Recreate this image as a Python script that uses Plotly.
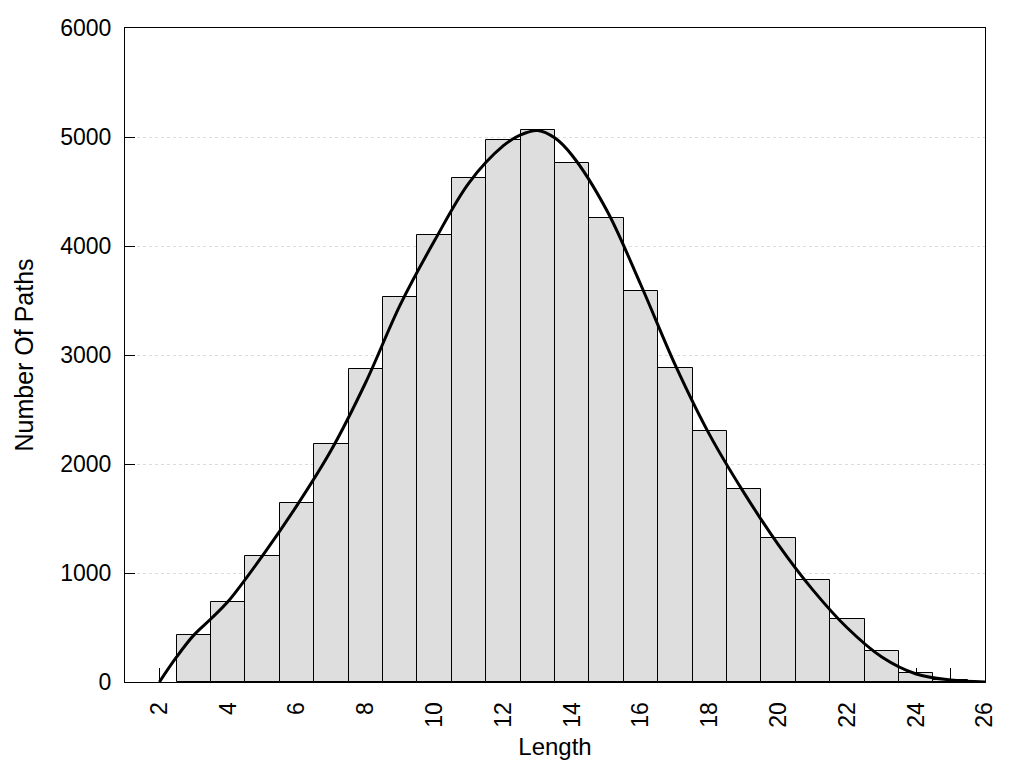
import plotly.graph_objects as go

# Histogram bars
bar_x = [3, 4, 5, 6, 7, 8, 9, 10, 11, 12, 13, 14, 15, 16, 17, 18, 19, 20, 21, 22, 23, 24, 25]
bar_y = [430, 735, 1155, 1640, 2180, 2875, 3530, 4100, 4620, 4968, 5068, 4766, 4255, 3585, 2880, 2300, 1770, 1320, 935, 575, 284, 80, 15]

# Smoothed curve
curve_x = [2, 2.5, 3, 3.5, 4, 5, 6, 7, 8, 9, 10, 11, 12, 12.5, 13, 13.5, 14, 15, 16, 17, 18, 19, 20, 21, 22, 23, 24, 25, 26]
curve_y = [0, 230, 430, 580, 740, 1160, 1620, 2130, 2750, 3460, 4050, 4580, 4920, 5020, 5060, 4990, 4830, 4330, 3640, 2905, 2265, 1733, 1256, 843, 495, 229, 73, 18, 0]

x_tickvals = list(range(2, 27))
x_ticktext = [str(v) if v % 2 == 0 else "" for v in x_tickvals]
y_tickvals = [0, 1000, 2000, 3000, 4000, 5000, 6000]

fig = go.Figure()
fig.add_trace(go.Bar(
    x=bar_x, y=bar_y, width=1,
    marker=dict(color="#dedede", line=dict(color="black", width=1)),
    showlegend=False,
))
fig.add_trace(go.Scatter(
    x=curve_x, y=curve_y, mode="lines",
    line=dict(color="black", width=3, shape="spline", smoothing=1.0),
    showlegend=False,
))

tick_font = dict(family="Liberation Sans, Arial, sans-serif", size=23, color="black")
title_font = dict(family="Liberation Sans, Arial, sans-serif", size=24, color="black")

fig.update_layout(
    width=1008, height=752,
    margin=dict(l=117, r=31, t=20, b=78, autoexpand=False),
    paper_bgcolor="white", plot_bgcolor="white",
    font=tick_font,
    bargap=0,
)
fig.update_xaxes(
    range=[1, 26], automargin=False,
    tickvals=x_tickvals, ticktext=x_ticktext,
    tickangle=-90, tickfont=tick_font,
    ticks="inside", ticklen=14, tickcolor="black", tickwidth=1,
    showline=True, linecolor="black", linewidth=1, mirror=True,
    showgrid=False, zeroline=False,
    layer="below traces",
    title=dict(text="Length", font=title_font, standoff=15),
    ticklabelstandoff=10,
)
fig.update_yaxes(
    range=[0, 6000], automargin=False,
    tickvals=y_tickvals, tickfont=tick_font,
    ticks="inside", ticklen=10, tickcolor="black", tickwidth=1,
    showline=True, linecolor="black", linewidth=1, mirror=True,
    showgrid=True, gridcolor="#dcdcdc", gridwidth=1, griddash="dot",
    zeroline=False,
    layer="below traces",
    title=dict(text="Number Of Paths", font=dict(family="Liberation Sans, Arial, sans-serif", size=25, color="black"), standoff=19),
    ticklabelstandoff=8,
)

fig.write_html("out.html")
